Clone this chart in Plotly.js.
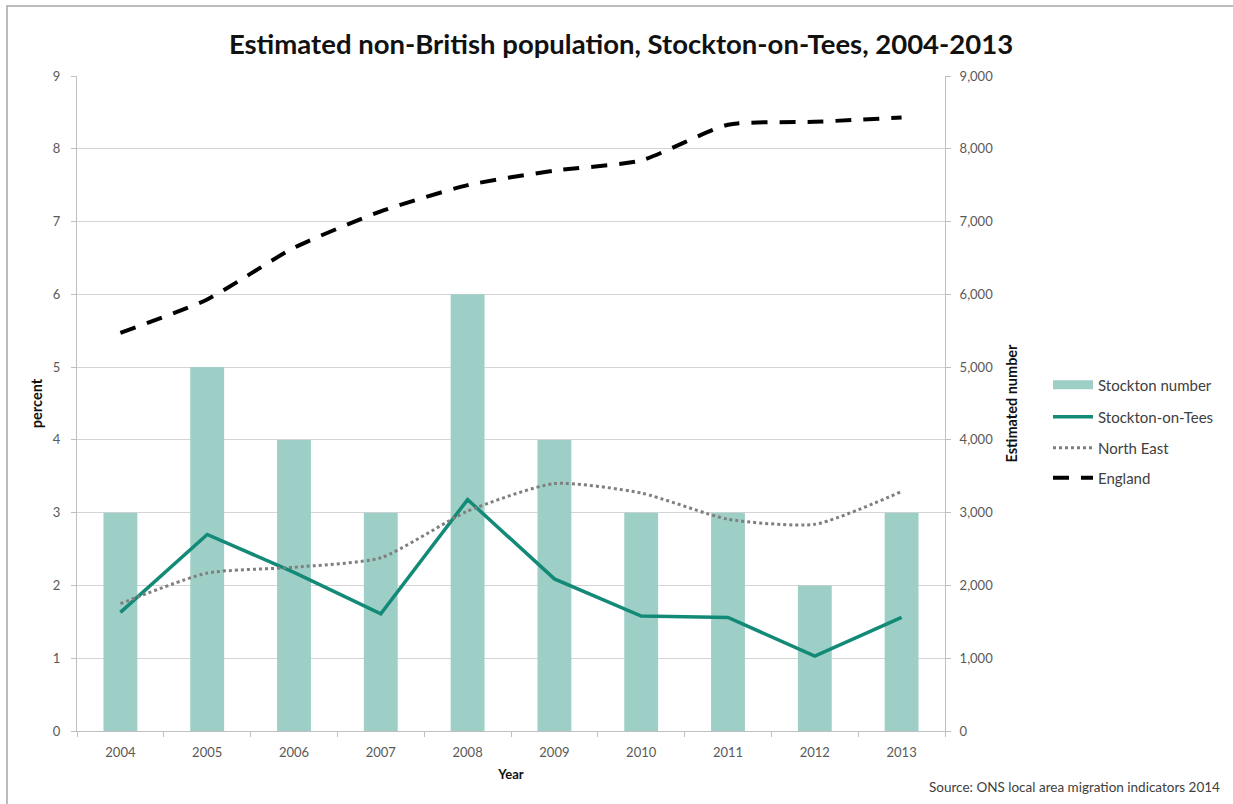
<!DOCTYPE html>
<html>
<head>
<meta charset="utf-8">
<script src="https://cdn.plot.ly/plotly-3.0.1.min.js"></script>
<style>
  html, body { margin: 0; padding: 0; background: #fff; }
  #chart { width: 1233px; height: 804px; }
</style>
</head>
<body>
<div id="chart"></div>
<script>
// Years shown on the category axis
const years = ['2004', '2005', '2006', '2007', '2008', '2009', '2010', '2011', '2012', '2013'];

// Estimated number of non-British residents in Stockton (right axis)
const stocktonNumber = [3000, 5000, 4000, 3000, 6000, 4000, 3000, 3000, 2000, 3000];

// Non-British share of population, percent (left axis)
const stocktonPct = [1.63, 2.70, 2.18, 1.61, 3.18, 2.09, 1.58, 1.56, 1.03, 1.56];
const northEastPct = [1.75, 2.17, 2.25, 2.38, 3.02, 3.40, 3.27, 2.91, 2.84, 3.29];
const englandPct = [5.47, 5.93, 6.64, 7.14, 7.50, 7.70, 7.84, 8.33, 8.37, 8.43];

// Tick values and labels for the two value axes
const leftTicks = [0, 1, 2, 3, 4, 5, 6, 7, 8, 9];
const rightTicks = [0, 1000, 2000, 3000, 4000, 5000, 6000, 7000, 8000, 9000];
const rightTickText = ['0', '1,000', '2,000', '3,000', '4,000', '5,000', '6,000', '7,000', '8,000', '9,000'];

const FONT = 'Lato, "Open Sans", sans-serif';
const GRID = '#d4d4d4';
const AXISCOL = '#bfbfbf';
const TICKCOL = '#595959';
const BARCOL = '#9dcfc6';

// Bars sit on the primary (right-hand) axis so the percentage lines,
// on the overlaying left-hand axis, are drawn on top of them.
const traces = [
  {
    type: 'bar', name: 'Stockton number', x: years, y: stocktonNumber, yaxis: 'y',
    marker: { color: BARCOL, line: { width: 0 } },
    showlegend: false
  },
  {
    // legend entry for the bars, drawn as a wide block
    type: 'scatter', mode: 'lines', name: 'Stockton number', x: [null], y: [null], yaxis: 'y2',
    line: { color: BARCOL, width: 9 }, legend: 'legend'
  },
  {
    type: 'scatter', mode: 'lines', name: 'Stockton-on-Tees', x: years, y: stocktonPct, yaxis: 'y2',
    line: { color: '#138a77', width: 3.5 }, legend: 'legend2'
  },
  {
    type: 'scatter', mode: 'lines', name: 'North East', x: years, y: northEastPct, yaxis: 'y2',
    line: { color: '#7f7f7f', width: 3, dash: 'dot', shape: 'spline', smoothing: 0.6 }, legend: 'legend3'
  },
  {
    type: 'scatter', mode: 'lines', name: 'England', x: years, y: englandPct, yaxis: 'y2',
    line: { color: '#000000', width: 4, dash: '16px,12px', shape: 'spline', smoothing: 0.6 }, legend: 'legend4'
  }
];

// Plot area: 77..945 px across, 76..731 px down
const PL = 77, PW = 868, PB = 731, PH = 655;
const px = v => (v - PL) / PW;
const py = v => (PB - v) / PH;

function legendAt(yPix) {
  return {
    x: px(1048), xanchor: 'left', y: py(yPix), yanchor: 'middle',
    bgcolor: 'rgba(0,0,0,0)', borderwidth: 0, itemwidth: 40,
    font: { family: FONT, size: 15, color: '#404040' }
  };
}

const layout = {
  width: 1233, height: 804,
  paper_bgcolor: '#ffffff', plot_bgcolor: '#ffffff',
  font: { family: FONT, size: 13, color: TICKCOL },
  margin: { l: 77, r: 288, t: 76, b: 73, pad: 0 },
  showlegend: true,
  bargap: 0.61,
  title: {
    text: 'Estimated non-British population, Stockton-on-Tees, 2004-2013',
    font: { family: FONT, size: 27.5, color: '#111111', weight: 'bold' },
    x: px(621), xref: 'paper', xanchor: 'center', y: 1 - 44 / 804, yanchor: 'middle'
  },
  xaxis: {
    type: 'category',
    showline: true, linecolor: AXISCOL, linewidth: 1,
    ticks: 'outside', tickson: 'boundaries', ticklen: 5, tickcolor: AXISCOL,
    showgrid: false, zeroline: false,
    tickfont: { family: FONT, size: 13, color: TICKCOL },
    ticklabelstandoff: 9,
    title: { text: 'Year', font: { family: FONT, size: 13, color: '#111111', weight: 'bold' }, standoff: 11 }
  },
  yaxis: {
    side: 'right',
    range: [0, 9000], tickvals: rightTicks, ticktext: rightTickText,
    showline: true, linecolor: AXISCOL, linewidth: 1,
    ticks: 'outside', ticklen: 5, tickcolor: AXISCOL,
    showgrid: true, gridcolor: GRID, gridwidth: 1, zeroline: false,
    tickfont: { family: FONT, size: 13, color: TICKCOL },
    ticklabelstandoff: 6,
    title: { text: 'Estimated number', font: { family: FONT, size: 14.5, color: '#111111', weight: 'bold' }, standoff: 14 }
  },
  yaxis2: {
    overlaying: 'y', side: 'left',
    range: [0, 9], tickvals: leftTicks, ticktext: leftTicks.map(String),
    showline: true, linecolor: AXISCOL, linewidth: 1,
    ticks: 'outside', ticklen: 5, tickcolor: AXISCOL,
    showgrid: false, zeroline: false,
    tickfont: { family: FONT, size: 13, color: TICKCOL },
    ticklabelstandoff: 8,
    title: { text: 'percent', font: { family: FONT, size: 14.5, color: '#111111', weight: 'bold' }, standoff: 6 }
  },
  legend: legendAt(385),
  legend2: legendAt(417),
  legend3: legendAt(448),
  legend4: legendAt(478),
  shapes: [
    {
      type: 'rect', xref: 'paper', yref: 'paper',
      x0: px(7), x1: px(1250), y0: py(820), y1: py(6),
      line: { color: '#a6a6a6', width: 1.5 }, fillcolor: 'rgba(0,0,0,0)', layer: 'below'
    }
  ],
  annotations: [
    {
      text: 'Source: ONS local area migration indicators 2014',
      xref: 'paper', yref: 'paper', x: px(1222), y: py(787),
      xanchor: 'right', yanchor: 'middle', showarrow: false,
      font: { family: FONT, size: 13.5, color: '#404040' }
    }
  ]
};

Plotly.newPlot('chart', traces, layout, { displayModeBar: false, staticPlot: true });
</script>
</body>
</html>
